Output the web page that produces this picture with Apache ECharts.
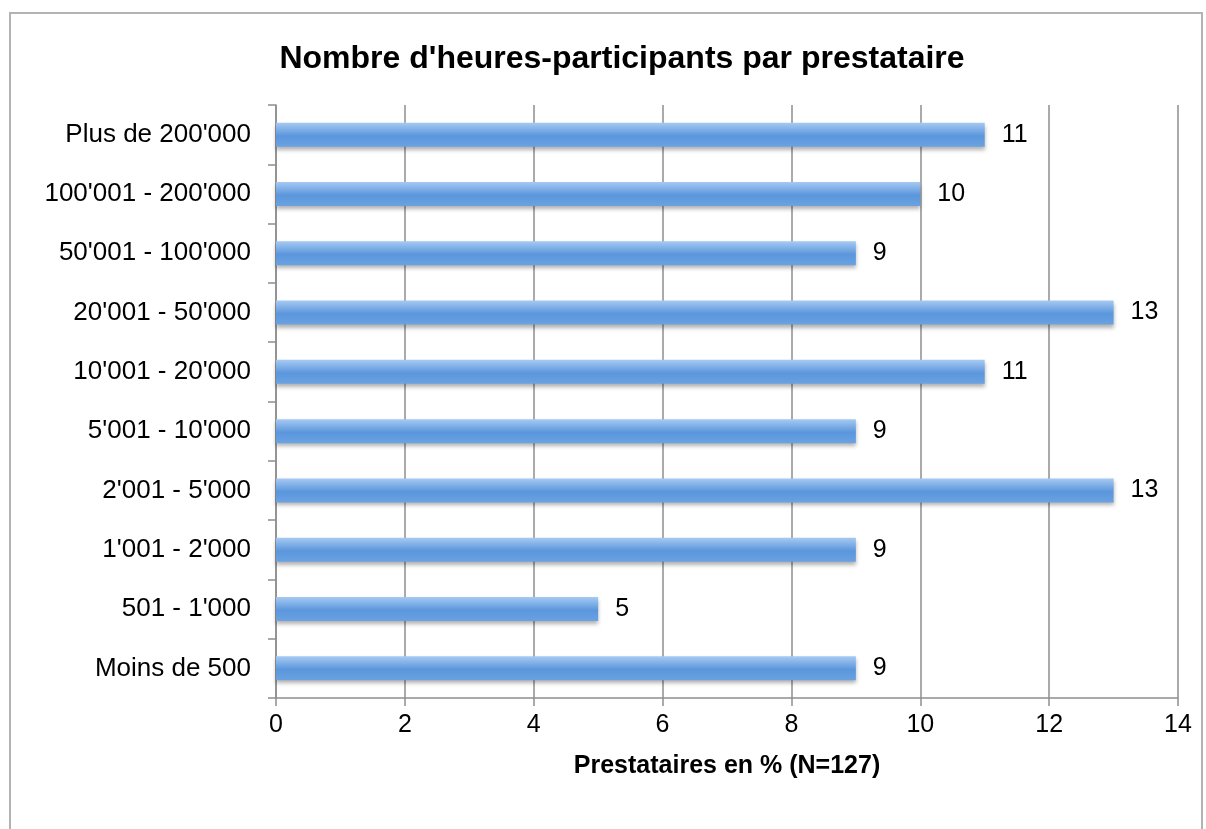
<!DOCTYPE html>
<html>
<head>
<meta charset="utf-8">
<script src="https://cdn.jsdelivr.net/npm/echarts@6/dist/echarts.min.js"></script>
<style>
  html, body { margin: 0; padding: 0; background: #fff; }
  #chart { width: 1206px; height: 829px; }
</style>
</head>
<body>
<div id="chart"></div>
<script>
// catégories (de bas en haut)
var categories = ['Moins de 500', "501 - 1'000", "1'001 - 2'000", "2'001 - 5'000", "5'001 - 10'000",
  "10'001 - 20'000", "20'001 - 50'000", "50'001 - 100'000", "100'001 - 200'000", "Plus de 200'000"]
var values = [9, 5, 9, 13, 9, 11, 13, 9, 10, 11]
var xTicks = [0, 2, 4, 6, 8, 10, 12, 14]

var axisGrey = '#8e8e8e'
var font = 'Liberation Sans, Arial, sans-serif'

var chart = echarts.init(document.getElementById('chart'))
chart.setOption({
  animation: false,
  title: {
    text: "Nombre d'heures-participants par prestataire",
    left: 617,
    top: 38,
    textAlign: 'center',
    textStyle: { fontFamily: font, fontSize: 32, fontWeight: 'bold', color: '#000' }
  },
  graphic: [{
    type: 'rect',
    shape: { x: 10, y: 13, width: 1192, height: 830 },
    style: { fill: null, stroke: '#b3b3b3', lineWidth: 2 },
    silent: true
  }],
  grid: { left: 276, right: 28, top: 105, bottom: 131 },
  xAxis: {
    type: 'value',
    min: xTicks[0],
    max: xTicks[xTicks.length - 1],
    interval: 2,
    name: 'Prestataires en % (N=127)',
    nameLocation: 'middle',
    nameGap: 56,
    nameTextStyle: { fontFamily: font, fontSize: 25, fontWeight: 'bold', color: '#000' },
    axisLine: { show: true, lineStyle: { color: axisGrey, width: 1.5 } },
    axisTick: { show: true, length: 8, lineStyle: { color: axisGrey, width: 1.5 } },
    axisLabel: { fontFamily: font, fontSize: 25, color: '#000', margin: 15 },
    splitLine: { show: true, lineStyle: { color: axisGrey, width: 1.5 } }
  },
  yAxis: {
    type: 'category',
    data: categories,
    axisLine: { show: true, lineStyle: { color: axisGrey, width: 1.5 } },
    axisTick: { show: true, length: 8, lineStyle: { color: axisGrey, width: 1.5 } },
    axisLabel: { fontFamily: font, fontSize: 26, color: '#000', margin: 25 }
  },
  series: [{
    type: 'bar',
    data: values,
    barWidth: 24,
    itemStyle: {
      color: new echarts.graphic.LinearGradient(0, 0, 0, 1, [
        { offset: 0, color: '#a6caf3' },
        { offset: 0.55, color: '#5b96dc' },
        { offset: 1, color: '#6aa2e2' }
      ]),
      shadowColor: 'rgba(0,0,0,0.3)',
      shadowBlur: 4,
      shadowOffsetY: 3
    },
    label: {
      show: true,
      position: 'right',
      distance: 17,
      fontFamily: font,
      fontSize: 25,
      color: '#000'
    }
  }]
})
</script>
</body>
</html>
